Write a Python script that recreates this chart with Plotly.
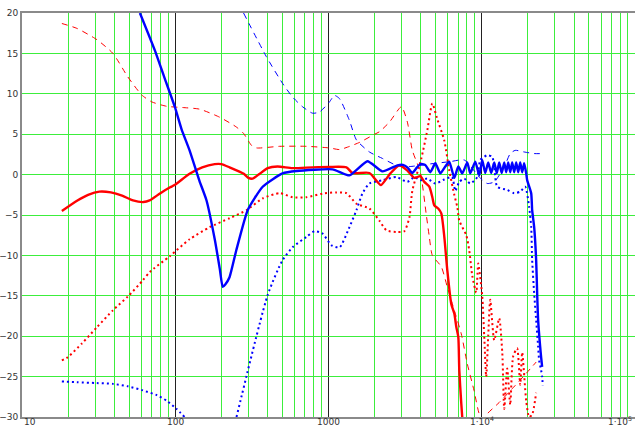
import plotly.graph_objects as go

# ---- frequency responses (Hz, dB) ----
red_solid_f = [18.2, 23, 27, 32, 38, 45, 53, 62, 68, 80, 92, 99, 124, 150, 181, 200, 226, 280, 300, 320, 350,
               401, 465, 583, 787, 1015, 1310, 1432, 1849, 2085, 2200, 2535, 2900, 3271, 3640, 3974, 4220,
               4548, 4760, 4900, 5200, 5445, 5698, 5957, 6325, 6620, 6830, 7030, 7135, 7350, 7465]
red_solid_db = [-4.5, -3.2, -2.5, -2.1, -2.2, -2.6, -3.2, -3.4, -3.2, -2.3, -1.6, -1.3, 0.1, 0.9, 1.3, 1.3, 0.9,
                0.1, -0.4, -0.5, 0.0, 0.8, 1.0, 0.8, 0.9, 0.95, 0.9, 0.2, 0.2, -0.9, -1.3, 0.15, 1.15, 0.5,
                -0.4, -0.2, -0.9, -1.5, -2.8, -3.8, -4.2, -4.8, -7.7, -11.8, -16.0, -17.2, -18.9, -20.1,
                -24.2, -28.3, -30.1]

red_dash_f = [18.2, 22.8, 30.8, 39.2, 49, 60.5, 70.3, 88.1, 112, 144, 195, 250, 279, 315, 340, 480, 719, 1015,
              1180, 1330, 1600, 2000, 2148, 2500, 2990, 3271, 3524, 3974, 4348, 4548, 4760, 5445, 5957, 6620,
              7350, 8043, 8900, 9630, 10230, 10860, 13000, 15800, 19500, 22650]
red_dash_db = [18.7, 18.1, 16.7, 15.0, 12.1, 9.85, 9.0, 8.45, 8.3, 8.1, 7.1, 5.9, 5.1, 3.6, 3.3, 3.5, 3.5, 3.3,
               3.1, 3.4, 4.0, 5.0, 5.3, 6.5, 8.4, 6.5, 3.0, 0.3, -5.0, -7.7, -10.0, -11.4, -13.9, -16.8,
               -19.7, -23.4, -26.7, -29.6, -30.3, -29.6, -28.2, -26.5, -24.6, -23.2]

red_dot_f = [18.2, 19.9, 24.6, 30.8, 39.2, 49, 61.4, 68.2, 92.1, 124, 168, 226, 292, 372, 480, 583, 719, 914,
             1127, 1310, 1521, 1849, 2148, 2388, 2815, 3126, 3372, 3524, 4034, 4415, 4760, 5100, 5698, 6138,
             6620, 6925, 7135, 7925, 8290, 8670, 9205, 9485, 10070, 10380, 10690, 11020, 11360, 12060, 13000,
             13610, 14020, 14660, 15340, 16030, 17020, 17820, 18360, 19500, 20380, 21330, 22650]
red_dot_db = [-23.0, -22.6, -20.9, -18.9, -16.8, -15.1, -13.1, -12.05, -10.1, -8.0, -6.5, -5.4, -4.4, -2.95,
              -2.3, -2.8, -2.8, -2.35, -2.2, -2.3, -3.6, -4.2, -5.7, -6.9, -7.1, -7.0, -5.3, -2.0, 2.0, 5.5,
              8.8, 7.0, 4.2, 0.5, -2.5, -4.0, -5.7, -7.5, -9.4, -12.5, -14.6, -11.0, -15.0, -20.0, -25.0,
              -20.0, -15.5, -20.5, -17.8, -22.0, -29.0, -24.0, -28.5, -22.5, -21.5, -26.0, -22.0, -28.0,
              -30.0, -29.7, -27.0]

blue_solid_f = [58.8, 73.5, 85, 99.3, 110, 124, 144, 160, 181, 195, 204, 212, 226, 250, 297, 372, 501, 619,
                1062, 1370, 1795, 2249, 2815, 3060, 3271, 3524, 3780, 3974, 4280, 4615, 4977, 5365, 5782,
                6138, 6620, 7030, 7465, 8043, 8414, 9072, 9630, 10070, 10540, 11020, 11530, 12060, 12530,
                13000, 13500, 14020, 14440, 14880, 15340, 15800, 16280, 16780, 17290, 17820, 18360, 18920,
                19500, 19790, 21020, 21330, 21980, 22650, 22990, 23330, 24050, 24400, 24780]
blue_solid_db = [20.0, 15.4, 12.0, 8.4, 5.6, 3.0, -0.8, -3.2, -8.0, -11.6, -13.9, -13.6, -12.7, -9.4,
                 -4.4, -1.5, 0.15, 0.45, 0.65, -0.1, 1.65, 0.4, 1.15, 1.2, 0.9, 0.2, 0.9, 1.3, 1.2, 0.3, 1.4,
                 0.15, 1.0, 1.6, -0.4, 1.0, 0.15, 1.5, 0.15, 1.6, -0.1, 1.8, 0.2, 1.5, 0.2, 1.5, 0.2, 1.5,
                 0.2, 1.5, 0.3, 1.5, 0.3, 1.5, 0.3, 1.5, 0.3, 1.5, 0.3, 1.4, 0.15, -0.7, -2.3, -4.4, -6.5,
                 -10.6, -14.7, -18.0, -21.3, -22.6, -23.8]

blue_dash_f = [279, 393, 501, 583, 677, 787, 874, 1015, 1094, 1180, 1370, 1521, 1849, 2249, 2815, 3400, 4500,
               6200, 7700, 9630, 10860, 12060, 14020, 15340, 16530, 18920, 21980, 24780]
blue_dash_db = [20.0, 14.6, 11.3, 9.6, 8.4, 7.6, 7.75, 9.0, 9.8, 9.4, 6.7, 4.3, 2.8, 2.0, 1.1, 1.0, 1.3, 1.6,
                1.8, -0.3, -1.1, -0.9, 0.95, 2.6, 3.0, 2.8, 2.6, 2.6]

blue_dot_f = [18.2, 22.8, 30.8, 39.2, 49, 61.4, 75.8, 88.1, 102, 115, None, 251, 401, 501, 583, 719, 811, 914,
              1046, 1180, 1370, 1521, 1665, 1849, 2249, 2773, 3271, 3640, 3974, 4415, 4977, 5698, 6400, 6720,
              7135, 7690, 8414, 9348, 9780, 10860, 11700, 12060, 12620, 14660, 16280, 17820, 19200, 20380,
              21020, 21330, 21980, 22650, 23330, 23690, 24400, 24780, 25000]
blue_dot_db = [-25.6, -25.7, -25.8, -25.9, -26.2, -26.7, -27.3, -28.0, -29.0, -30.0, None, -30.0, -14.9,
               -10.6, -9.0, -7.7, -7.0, -7.3, -8.75, -9.0, -6.5, -4.4, -2.35, -1.1, -0.7, -0.3, -0.9, -0.3,
               -0.7, -0.5, -1.1, -0.6, -0.3, -2.0, -0.9, -0.5, -1.1, -0.3, 1.8, 2.4, 2.2, 0.95, -1.5, -1.9,
               -2.3, -2.1, -1.5, -4.0, -6.5, -10.6, -14.7, -18.0, -21.3, -23.0, -24.2, -25.0, -26.1]

# x labels at each decade (first and last are pulled inside the plot edges)
x_tick_vals = [10, 100, 1000, 10000, 100000]
x_tick_text = ["10", "100", "1000", "1·10<sup>4</sup>", "1·10<sup>5</sup>"]
y_tick_vals = [20, 15, 10, 5, 0, -5, -10, -15, -20, -25, -30]

RED = "#ff0000"
BLUE = "#0000ff"
GREEN = "#3cee3c"

fig = go.Figure()

def add(fx, fy, color, width, dash, smooth=0.6):
    fig.add_trace(go.Scatter(x=fx, y=fy, mode="lines", connectgaps=False,
                             line=dict(color=color, width=width, dash=dash, shape="spline", smoothing=smooth),
                             hoverinfo="skip", showlegend=False))

add(red_dash_f, red_dash_db, RED, 1.0, "6px,5px")
add(blue_dash_f, blue_dash_db, BLUE, 1.0, "6px,5px")
add(red_dot_f, red_dot_db, RED, 2.0, "2px,3px")
add(blue_dot_f, blue_dot_db, BLUE, 2.0, "2px,3px")
add(red_solid_f, red_solid_db, RED, 2.4, "solid")
add(blue_solid_f, blue_solid_db, BLUE, 2.4, "solid", 0.5)

font = dict(family="DejaVu Sans", size=9, color="#333333")

x_labels = []
for i, (v, t) in enumerate(zip(x_tick_vals, x_tick_text)):
    if i == 0:
        anchor, shift = "left", 1
    elif i == len(x_tick_vals) - 1:
        anchor, shift = "right", -2
    else:
        anchor, shift = "center", 0
    x_labels.append(dict(x=len(str(int(v))) - 1, y=0, xref="x", yref="paper", text=t, showarrow=False,
                         xanchor=anchor, yanchor="bottom", xshift=shift, yshift=-11, borderpad=0,
                         font=font))

fig.update_layout(
    width=635, height=427,
    margin=dict(l=22, r=0, t=13, b=10, autoexpand=False),
    paper_bgcolor="white", plot_bgcolor="white",
    font=font,
    xaxis=dict(
        type="log", range=[1, 5], automargin=False,
        tickvals=x_tick_vals, showticklabels=False,
        showgrid=True, gridcolor="#222222", gridwidth=1,
        minor=dict(dtick="D1", showgrid=True, gridcolor=GREEN, gridwidth=1.3, ticks=""),
        ticks="", zeroline=False,
        showline=True, linecolor="#8a8a8a", linewidth=2, mirror=True,
    ),
    yaxis=dict(
        range=[-30, 20], tickvals=y_tick_vals, automargin=False,
        showgrid=True, gridcolor=GREEN, gridwidth=1.3,
        ticks="", zeroline=False,
        showline=True, linecolor="#8a8a8a", linewidth=2,
        tickfont=font,
    ),
    annotations=x_labels,
)

fig.write_html("out.html")
